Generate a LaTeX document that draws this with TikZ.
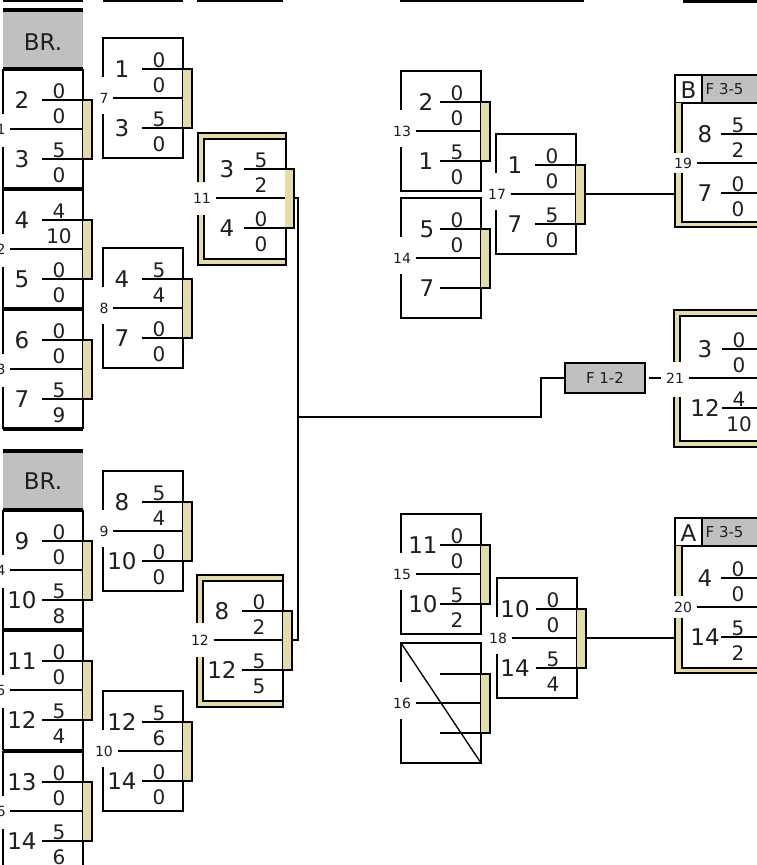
\documentclass[tikz,border=0pt]{standalone}
\usepackage{fontspec}
\setmainfont{DejaVu Sans}
\usetikzlibrary{positioning}

\definecolor{barfill}{RGB}{228,219,168}
\definecolor{cellgray}{RGB}{192,192,192}
\definecolor{ink}{RGB}{30,30,36}

\tikzset{
  plr/.style={inner sep=0pt, anchor=base, text=ink, font=\fontsize{23}{23}\selectfont},
  scr/.style={inner sep=0pt, anchor=base, text=ink, font=\fontsize{20}{20}\selectfont},
  lbl/.style={inner xsep=4pt, inner ysep=1pt, fill=white, text=ink, font=\fontsize{14}{14}\selectfont},
  hdr/.style={inner sep=0pt, anchor=base, text=ink, font=\fontsize{23}{23}\selectfont},
  tag/.style={inner sep=0pt, anchor=west, text=ink, font=\fontsize{15}{15}\selectfont},
  fbox/.style={draw, fill=cellgray, minimum width=80pt, minimum height=30pt, inner sep=0pt, text=ink, font=\fontsize{15}{15}\selectfont},
  thickbar/.style={line width=4.5pt},
}

% player column offset and label offset, changed per match
\newcommand{\plx}{19}
\newcommand{\lbx}{1}

% one match: number, corner x, corner y, player, score over score, player, score over score
\newcommand{\mcore}[9]{%
  \begin{scope}[shift={(#2,#3)}]
    \fill[barfill] (80,31) rectangle (89,90);
    \draw (39,31) -- (89,31) -- (89,90) -- (39,90);
    \node[lbl] (l#1) at (\lbx,60) {#1};
    \draw (l#1.east) -- (80,60);
    \node[plr] (p#1a) at (\plx,39) {#4};
    \node[scr] (n#1a) at (56,29) {#5};
    \node[scr] (d#1a) at (56,54) {#6};
    \node[plr] (p#1b) at (\plx,98) {#7};
    \node[scr] (n#1b) at (56,88) {#8};
    \node[scr] (d#1b) at (56,113) {#9};
    \coordinate (o#1) at (89,60);
  \end{scope}}

% plain box round a match
\newcommand{\sqbox}[2]{%
  \draw[shift={(#1,#2)}] (0,39) -- (0,0) -- (80,0) -- (80,120) -- (0,120) -- (0,76);}

% double frame: x, y, width, height, gap from, gap to
\newcommand{\dframe}[6]{%
  \begin{scope}[shift={(#1,#2)}]
    \fill[barfill, even odd rule] (0,0) rectangle (#3,#4) (6,6) rectangle (#3,#4-6);
    \fill[white] (-1,#5) rectangle (7,#6);
    \draw (0,#5) -- (0,0) -- (#3,0) -- (#3,#4) -- (0,#4) -- (0,#6);
    \draw (6,#5) -- (6,6) -- (#3,6);
    \draw (#3,#4-6) -- (6,#4-6) -- (6,#6);
  \end{scope}}

% left and bottom double line under a header row
\newcommand{\lframe}[5]{%
  \begin{scope}[shift={(#1,#2)}]
    \fill[barfill] (0,0) rectangle (7,#3);
    \fill[barfill] (0,#3-5) rectangle (100,#3);
    \fill[white] (-1,#4) rectangle (8,#5);
    \draw (0,#4) -- (0,0);
    \draw (0,#5) -- (0,#3) -- (100,#3);
    \draw (7,#4) -- (7,0);
    \draw (7,#5) -- (7,#3-5) -- (100,#3-5);
  \end{scope}}

% header row: name, x, y, letter
\newcommand{\hdrrow}[4]{%
  \begin{scope}[shift={(#2,#3)}]
    \draw[fill=cellgray] (27,0) rectangle (100,28);
    \draw (0,0) rectangle (27,28);
    \node[hdr] (h#1) at (13.5,23) {#4};
    \node[tag] (t#1) at (30,14) {F 3-5};
  \end{scope}}

\begin{document}
\begin{tikzpicture}[x=1pt, y=-1pt, line width=1.3pt]
\useasboundingbox (0,0) rectangle (757,865);
\clip (0,0) rectangle (757,865);

% rows cut off at the top
\draw (3,1) -- (83,1);
\draw (103,1) -- (183,1);
\draw (197,1) -- (283,1);
\draw (400,1) -- (584,1);
\draw[line width=3pt] (683,1) -- (757,1);

% ============================================================
% ROUND ONE, UPPER BLOCK
% ============================================================
\fill[cellgray] (3,10) rectangle (83,69);
\node[hdr] (br1) at (43,50) {BR.};
\draw (83,69) -- (83,429);
\foreach \y in {69,189,309} {
  \draw (3,\y) -- (3,\y+45);
  \draw (3,\y+78) -- (3,\y+120);
}
{\renewcommand{\lbx}{-2}
\mcore{1}{3}{69}{2}{0}{0}{3}{5}{0}
\mcore{2}{3}{189}{4}{4}{10}{5}{0}{0}
\mcore{3}{3}{309}{6}{0}{0}{7}{5}{9}}
\foreach \y in {10,69,189,309,429}
  \draw[thickbar] (3,\y) -- (83,\y);

% ============================================================
% ROUND ONE, LOWER BLOCK
% ============================================================
\fill[cellgray] (3,451) rectangle (83,510);
\node[hdr] (br2) at (43,489) {BR.};
\draw (83,510) -- (83,870);
\foreach \y in {510,630,751} {
  \draw (3,\y) -- (3,\y+45);
  \draw (3,\y+78) -- (3,\y+120);
}
{\renewcommand{\lbx}{-2}
\mcore{4}{3}{510}{9}{0}{0}{10}{5}{8}
\mcore{5}{3}{630}{11}{0}{0}{12}{5}{4}
\mcore{6}{3}{751}{13}{0}{0}{14}{5}{6}}
\foreach \y in {451,510,630,751}
  \draw[thickbar] (3,\y) -- (83,\y);

% ============================================================
% ROUND TWO
% ============================================================
\sqbox{103}{38}  \mcore{7}{103}{38}{1}{0}{0}{3}{5}{0}
\sqbox{103}{248} \mcore{8}{103}{248}{4}{5}{4}{7}{0}{0}
\sqbox{103}{471} \mcore{9}{103}{471}{8}{5}{4}{10}{0}{0}
\sqbox{103}{691} \mcore{10}{103}{691}{12}{5}{6}{14}{0}{0}

% ============================================================
% SEMI FINALS
% ============================================================
\dframe{198}{133}{88}{132}{49}{82}
{\renewcommand{\lbx}{-3}\renewcommand{\plx}{22}
\mcore{11}{205}{138}{3}{5}{2}{4}{0}{0}}
\dframe{197}{575}{86}{132}{48}{82}
{\renewcommand{\lbx}{-3}
\mcore{12}{203}{580}{8}{0}{2}{12}{5}{5}}

\draw (o11) -- ++(4,0) |- (o12);
\coordinate (jn) at (298,417);
\coordinate (kn) at (541,417);
\node[fbox] (f12) at (605,378) {F 1-2};
\draw (jn) -- (kn) |- (f12.west);

% ============================================================
% RIGHT SIDE
% ============================================================
\sqbox{401}{71}
{\renewcommand{\plx}{25}\mcore{13}{401}{71}{2}{0}{0}{1}{5}{0}}
\sqbox{401}{198}
{\renewcommand{\plx}{26}\mcore{14}{401}{198}{5}{0}{0}{7}{}{}}
\sqbox{401}{514}
{\renewcommand{\plx}{22}\mcore{15}{401}{514}{11}{0}{0}{10}{5}{2}}
\sqbox{401}{643}
\draw (401,643) -- (481,763);
\mcore{16}{401}{643}{}{}{}{}{}{}
\sqbox{496}{134} \mcore{17}{496}{134}{1}{0}{0}{7}{5}{0}
\sqbox{497}{578}
{\renewcommand{\plx}{18}\mcore{18}{497}{578}{10}{0}{0}{14}{5}{4}}

% ============================================================
% PLACE MATCHES
% ============================================================
\hdrrow{19}{675}{75}{B}
\lframe{675}{103}{124}{50}{70}
{\renewcommand{\plx}{23}\mcore{19}{682}{103}{8}{5}{2}{7}{0}{0}}
\coordinate (e19) at (675,194);
\draw (o17) -- (e19);

\hdrrow{20}{675}{518}{A}
\lframe{675}{546}{127}{50}{72}
{\renewcommand{\plx}{23}\mcore{20}{682}{547}{4}{0}{0}{14}{5}{2}}
\coordinate (e20) at (675,638);
\draw (o18) -- (e20);

\dframe{674}{310}{100}{137}{52}{87}
{\renewcommand{\lbx}{-8}\renewcommand{\plx}{22}
\mcore{21}{683}{318}{3}{0}{0}{12}{4}{10}}
\draw ([xshift=3pt]f12.east) -- (l21.west);

\end{tikzpicture}
\end{document}
